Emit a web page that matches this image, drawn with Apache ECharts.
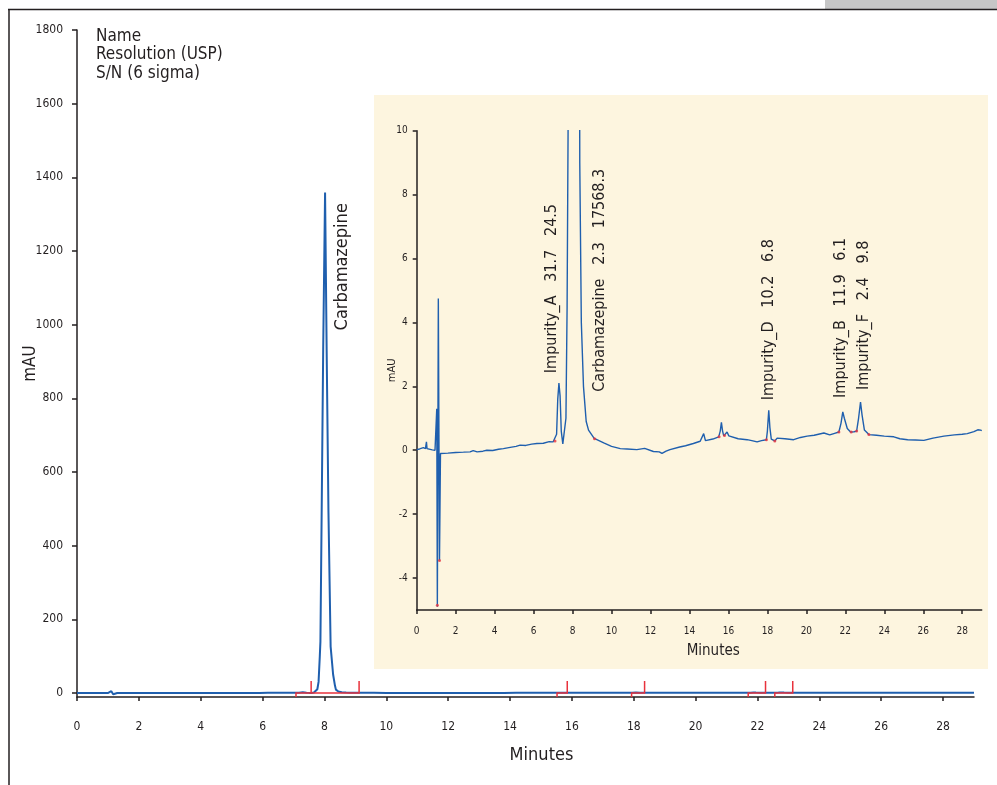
<!DOCTYPE html>
<html>
<head>
<meta charset="utf-8">
<title>Carbamazepine impurities</title>
<script src="https://cdn.jsdelivr.net/npm/echarts@6/dist/echarts.min.js"></script>
<style>
  html, body { margin: 0; padding: 0; background: #fff; }
  #chart { width: 997px; height: 785px; }
</style>
</head>
<body>
<div id="chart"></div>
<script>
// chromatogram: time (min) and absorbance (mAU)
var timeMin = [
  0.00, 0.15, 0.34, 0.45, 0.50, 0.53, 0.60, 0.80, 0.94, 1.01,
  1.03, 1.06, 1.11, 1.17, 1.22, 1.30, 1.60, 2.00, 2.40, 2.74,
  2.90, 3.10, 3.40, 3.60, 3.90, 4.20, 4.45, 4.80, 5.10, 5.31,
  5.60, 5.90, 6.17, 6.50, 6.80, 7.00, 7.10, 7.18, 7.24, 7.30,
  7.36, 7.42, 7.50, 7.59, 7.66, 7.72, 7.77, 7.81, 7.85, 7.87,
  7.91, 7.96, 8.02, 8.07, 8.13, 8.20, 8.28, 8.34, 8.37, 8.45,
  8.56, 8.70, 8.82, 9.11, 9.60, 10.00, 10.45, 10.80, 11.30, 11.70,
  12.15, 12.45, 12.59, 12.80, 13.00, 13.50, 13.80, 14.20, 14.55, 14.65,
  14.73, 14.82, 14.90, 15.20, 15.50, 15.58, 15.64, 15.70, 15.76, 15.85,
  15.93, 16.02, 16.10, 16.50, 16.96, 17.20, 17.47, 17.70, 17.95, 18.00,
  18.07, 18.13, 18.20, 18.38, 18.50, 18.90, 19.35, 19.70, 20.04, 20.40,
  20.90, 21.20, 21.45, 21.67, 21.78, 21.87, 21.95, 22.10, 22.27, 22.45,
  22.58, 22.68, 22.78, 22.86, 22.98, 23.21, 23.60, 24.00, 24.49, 24.80,
  25.20, 25.60, 26.03, 26.50, 27.06, 27.60, 28.00, 28.26, 28.60, 28.80,
  28.95, 29.00
];
var absorbance = [
  0.02, 0.04, 0.08, 0.05, 0.26, 0.05, 0.02, 0.01, 0.00, 0.00,
  1.30, -4.90, 4.75, -3.45, -0.10, -0.08, -0.09, -0.07, -0.06, -0.05,
  -0.01, -0.05, -0.03, 0.00, -0.01, 0.03, 0.05, 0.09, 0.12, 0.16,
  0.15, 0.19, 0.21, 0.22, 0.27, 0.26, 0.29, 0.50, 1.60, 2.10,
  1.70, 0.60, 0.20, 0.16, 1.00, 4.50, 10.0, 30, 100, 140,
  490, 940, 1359, 940, 490, 126, 50, 20, 9.0, 4.0,
  2.0, 0.90, 0.63, 0.37, 0.23, 0.12, 0.05, 0.04, 0.02, 0.06,
  -0.04, -0.05, -0.10, -0.03, 0.02, 0.10, 0.14, 0.21, 0.28, 0.30,
  0.52, 0.30, 0.28, 0.35, 0.42, 0.60, 0.87, 0.60, 0.45, 0.50,
  0.57, 0.45, 0.40, 0.36, 0.33, 0.30, 0.26, 0.30, 0.33, 0.60,
  1.25, 0.70, 0.35, 0.29, 0.38, 0.36, 0.33, 0.40, 0.44, 0.47,
  0.54, 0.48, 0.53, 0.57, 0.85, 1.20, 1.00, 0.68, 0.57, 0.58,
  0.60, 1.00, 1.51, 1.10, 0.63, 0.49, 0.47, 0.44, 0.42, 0.36,
  0.33, 0.32, 0.31, 0.38, 0.44, 0.48, 0.50, 0.52, 0.58, 0.64,
  0.63, 0.61
];

// named peaks
var peakNames = ['Impurity_A', 'Carbamazepine', 'Impurity_D', 'Impurity_B', 'Impurity_F'];
var peakTimes = [7.30, 8.02, 18.07, 21.87, 22.78];
var peakHeights = [2.1, 1359, 1.25, 1.2, 1.51];
var peakResolution = ['31.7', '2.3', '10.2', '11.9', '2.4'];
var peakSN = ['24.5', '17568.3', '6.8', '6.1', '9.8'];

// integration events (red marks)
var integStart = [7.08, 15.52, 17.93, 21.70, 22.56];
var integEnd = [9.12, 15.85, 18.35, 22.26, 23.14];
var integSplit = [7.57];
var eventTimes = [1.06, 1.17, 7.10, 9.13, 15.52, 15.80, 17.95, 18.38, 21.67, 22.30, 22.58, 23.21];
var eventValues = [-4.85, -3.45, 0.29, 0.36, 0.42, 0.46, 0.33, 0.29, 0.57, 0.57, 0.60, 0.49];

// ticks and text
var xTicks = [0, 2, 4, 6, 8, 10, 12, 14, 16, 18, 20, 22, 24, 26, 28];
var mainYTicks = [0, 200, 400, 600, 800, 1000, 1200, 1400, 1600, 1800];
var insetYTicks = [-4, -2, 0, 2, 4, 6, 8, 10];
var headerLines = ['Name', 'Resolution (USP)', 'S/N (6 sigma)'];

var FONT = '"Liberation Sans Narrow", "DejaVu Sans Condensed", "Roboto", sans-serif';
var INK = '#231f20';
var BLUE = '#1f5fae';
var RED = '#e8323c';

var trace = timeMin.map(function (t, i) { return [t, absorbance[i]]; });
var plain = function (v) { return String(v); };

var chart = echarts.init(document.getElementById('chart'));

function axisX(gridIndex, fs, margin, nameGap, nameSize, pad) {
  return {
    type: 'value', gridIndex: gridIndex, min: 0, max: 29,
    name: 'Minutes', nameLocation: 'middle', nameGap: nameGap, nameMoveOverlap: false,
    nameTextStyle: { fontFamily: FONT, fontSize: nameSize, color: INK, padding: pad },
    axisLine: { show: true, onZero: false, lineStyle: { color: INK, width: 1.5 } },
    axisTick: { show: true, length: 4, customValues: xTicks, lineStyle: { color: INK, width: 1.5 } },
    axisLabel: { customValues: xTicks, formatter: plain, fontFamily: FONT, fontSize: fs, color: INK, margin: margin },
    splitLine: { show: false }
  };
}

var option = {
  animation: false,
  backgroundColor: '#fff',
  title: {
    text: headerLines.join('\n'),
    left: 96, top: 27, padding: 0,
    textStyle: { fontFamily: FONT, fontSize: 17, fontWeight: 'normal', color: INK, lineHeight: 18.5 }
  },
  graphic: [
    { type: 'rect', z: -5, shape: { x: 825, y: 0, width: 172, height: 9 }, style: { fill: '#c6c6c6' } },
    { type: 'line', z: -5, shape: { x1: 8, y1: 9.5, x2: 997, y2: 9.5 }, style: { stroke: INK, lineWidth: 1.5 } },
    { type: 'line', z: -5, shape: { x1: 9, y1: 9, x2: 9, y2: 785 }, style: { stroke: INK, lineWidth: 1.5 } },
    { type: 'rect', z: -5, shape: { x: 374, y: 95, width: 614, height: 574 }, style: { fill: '#fdf5df' } }
  ],
  grid: [
    { left: 77, top: 30, right: 23, bottom: 88, outerBoundsMode: 'none', containLabel: false },
    { left: 416.7, top: 130.7, right: 15.3, bottom: 175, outerBoundsMode: 'none', containLabel: false }
  ],
  xAxis: [
    axisX(0, 12, 24, 49, 18, [0, 0, 0, 32]),
    axisX(1, 10, 16, 34, 15, [0, 0, 0, 28])
  ],
  yAxis: [
    {
      type: 'value', gridIndex: 0, min: -11, max: 1800,
      name: 'mAU', nameLocation: 'middle', nameGap: 38, nameMoveOverlap: false,
      nameTextStyle: { fontFamily: FONT, fontSize: 17, color: INK },
      axisLine: { show: true, onZero: false, lineStyle: { color: INK, width: 1.5 } },
      axisTick: { show: true, length: 5, customValues: mainYTicks, lineStyle: { color: INK, width: 1.5 } },
      axisLabel: { customValues: mainYTicks, formatter: plain, fontFamily: FONT, fontSize: 12, color: INK, margin: 14 },
      splitLine: { show: false }
    },
    {
      type: 'value', gridIndex: 1, min: -5, max: 10,
      name: 'mAU', nameLocation: 'middle', nameGap: 19, nameMoveOverlap: false,
      nameTextStyle: { fontFamily: FONT, fontSize: 11, color: INK },
      axisLine: { show: true, onZero: false, lineStyle: { color: INK, width: 1.5 } },
      axisTick: { show: true, length: 4, customValues: insetYTicks, lineStyle: { color: INK, width: 1.5 } },
      axisLabel: { customValues: insetYTicks, formatter: plain, fontFamily: FONT, fontSize: 10, color: INK, margin: 9 },
      splitLine: { show: false }
    }
  ],
  series: [
    {
      name: 'main', type: 'line', xAxisIndex: 0, yAxisIndex: 0, data: trace,
      showSymbol: false, lineStyle: { color: BLUE, width: 2 }, z: 3
    },
    {
      // integration brackets on the main baseline
      name: 'integration', type: 'custom', xAxisIndex: 0, yAxisIndex: 0, z: 4,
      data: integStart.map(function (s, i) { return [s, integEnd[i]]; }),
      renderItem: function (params, api) {
        var a = api.coord([api.value(0), 0]);
        var b = api.coord([api.value(1), 0]);
        return {
          type: 'polyline',
          shape: { points: [[a[0], a[1] + 4], [a[0], a[1]], [b[0], b[1]], [b[0], b[1] - 12]] },
          style: { stroke: RED, lineWidth: 1.5, fill: null }
        };
      }
    },
    {
      name: 'split', type: 'custom', xAxisIndex: 0, yAxisIndex: 0, z: 4,
      data: integSplit.map(function (s) { return [s]; }),
      renderItem: function (params, api) {
        var a = api.coord([api.value(0), 0]);
        return {
          type: 'line',
          shape: { x1: a[0], y1: a[1], x2: a[0], y2: a[1] - 12 },
          style: { stroke: RED, lineWidth: 1.5 }
        };
      }
    },
    {
      name: 'mainLabel', type: 'custom', xAxisIndex: 0, yAxisIndex: 0, z: 5,
      data: [[peakTimes[1], peakHeights[1]]],
      renderItem: function (params, api) {
        var p = api.coord([api.value(0), api.value(1)]);
        return {
          type: 'text', x: p[0] + 17, y: p[1] + 138, rotation: Math.PI / 2,
          style: {
            text: peakNames[1], fill: INK, fontFamily: FONT, fontSize: 18,
            align: 'left', verticalAlign: 'middle', textAlign: 'left', textVerticalAlign: 'middle'
          }
        };
      }
    },
    {
      name: 'inset', type: 'line', xAxisIndex: 1, yAxisIndex: 1, data: trace,
      showSymbol: false, lineStyle: { color: BLUE, width: 1.4 }, z: 3
    },
    {
      name: 'events', type: 'scatter', xAxisIndex: 1, yAxisIndex: 1, z: 4,
      data: eventTimes.map(function (t, i) { return [t, eventValues[i]]; }),
      symbolSize: 3, itemStyle: { color: RED }
    },
    {
      name: 'peakLabels', type: 'custom', xAxisIndex: 1, yAxisIndex: 1, z: 5,
      data: peakTimes.map(function (t, i) { return [t, Math.min(peakHeights[i], 10), i]; }),
      renderItem: function (params, api) {
        var i = api.value(2);
        var p = api.coord([api.value(0), api.value(1)]);
        var off = [[-7, -10], [27, 261], [0, -10], [-2, -14], [3, -12]][i];
        return {
          type: 'text', x: p[0] + off[0], y: p[1] + off[1], rotation: Math.PI / 2,
          style: {
            text: peakNames[i] + '   ' + peakResolution[i] + '   ' + peakSN[i],
            fill: INK, fontFamily: FONT, fontSize: 16,
            align: 'left', verticalAlign: 'middle', textAlign: 'left', textVerticalAlign: 'middle'
          }
        };
      }
    }
  ]
};

chart.setOption(option);
</script>
</body>
</html>
